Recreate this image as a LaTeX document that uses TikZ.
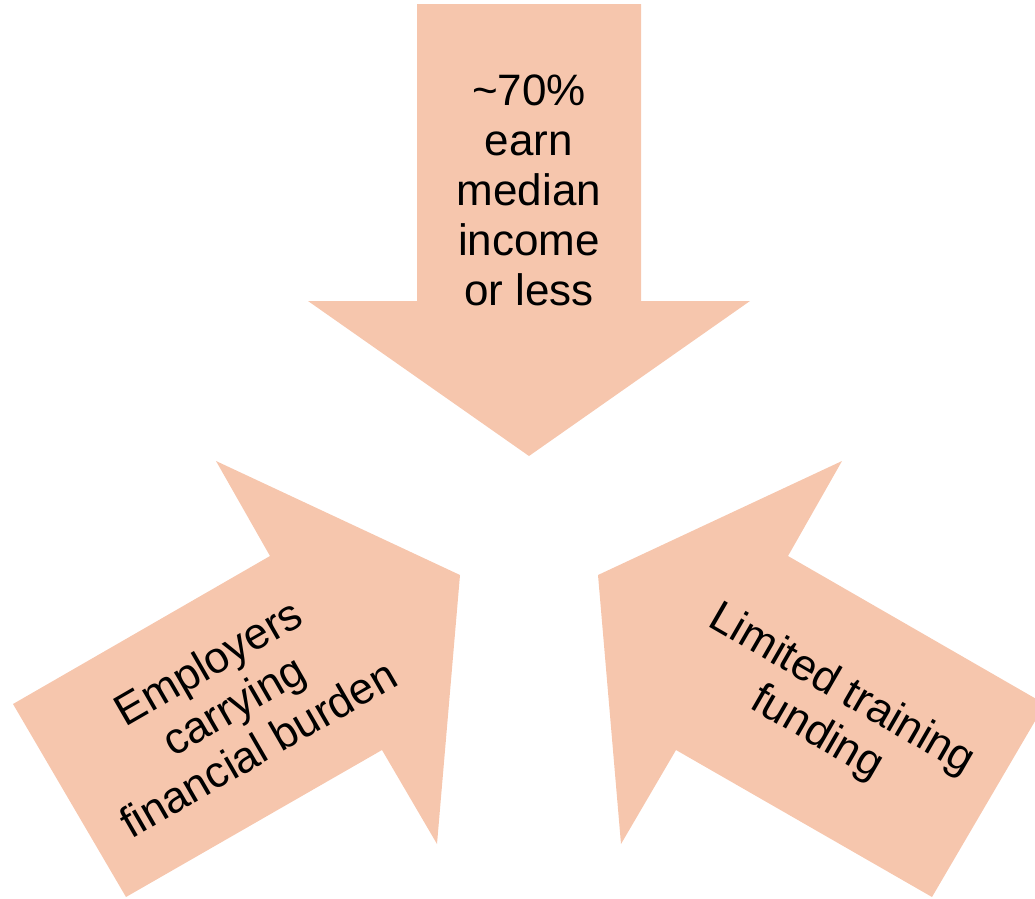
\documentclass[tikz,border=0pt]{standalone}
\usepackage{fontspec}
\setmainfont{Liberation Sans}
\definecolor{peach}{HTML}{F6C6AD}
\begin{document}
\begin{tikzpicture}[x=1pt,y=-1pt,
  blockarrow/.style={fill=peach,draw=none},
  label/.style={text=black,align=center,inner sep=0pt,
    font=\fontsize{44}{50}\selectfont}]
\useasboundingbox (0,0) rectangle (1035,898);
\clip (0,0) rectangle (1035,898);
% downward arrow
\fill[blockarrow] (417,4) -- (641,4) -- (641,301) -- (750,301) -- (529,456)
  -- (308,301) -- (417,301) -- cycle;
% arrow from the lower left
\fill[blockarrow] (13,704) -- (270,556) -- (216,461) -- (460,575)
  -- (437,844) -- (382,750) -- (126,897) -- cycle;
% arrow from the lower right
\fill[blockarrow] (1045,704) -- (788,556) -- (842,461) -- (598,575)
  -- (621,844) -- (676,750) -- (932,897) -- cycle;
\node[label] (top) at (529,190) {\textasciitilde70\%\\earn\\median\\income\\or less};
\node[label,rotate=30] (left) at (233,705) {Employers\\carrying\\financial burden};
\node[label,rotate=-30] (right) at (829,712) {Limited training\\funding};
\end{tikzpicture}
\end{document}
